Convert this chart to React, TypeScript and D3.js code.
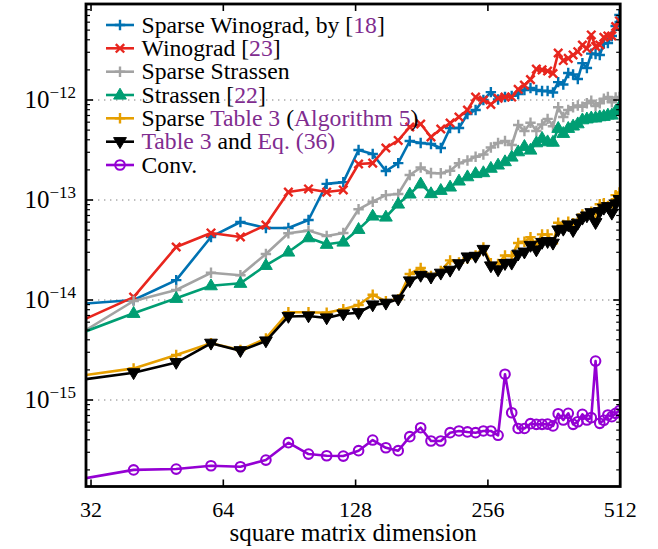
import React from 'react';
import * as d3 from 'd3';

const sizes = [30, 40, 50, 60, 70, 80, 90, 100, 110, 120, 130, 140, 150, 160, 170, 180, 190, 200, 210, 220, 230, 240, 250, 260, 270, 280, 290, 300, 310, 320, 330, 340, 350, 360, 370, 380, 390, 400, 410, 420, 430, 440, 450, 460, 470, 480, 490, 500, 510];

const sparseWinograd = [9.12e-15, 1.0e-14, 1.58e-14, 4.27e-14, 6.03e-14, 5.25e-14, 5.25e-14, 6.31e-14, 1.45e-13, 1.51e-13, 3.16e-13, 2.88e-13, 1.95e-13, 2.34e-13, 3.89e-13, 3.72e-13, 3.63e-13, 3.31e-13, 5.25e-13, 5.25e-13, 7.24e-13, 7.94e-13, 1.0e-12, 1.2e-12, 1.01e-12, 1.07e-12, 1.1e-12, 1.15e-12, 1.26e-12, 1.32e-12, 1.26e-12, 1.23e-12, 1.23e-12, 1.19e-12, 1.51e-12, 1.43e-12, 1.86e-12, 1.8e-12, 1.62e-12, 2.34e-12, 2.09e-12, 2.91e-12, 2.88e-12, 2.82e-12, 3.67e-12, 3.72e-12, 4.37e-12, 5.5e-12, 7.08e-12];

const winograd = [6.03e-15, 1.07e-14, 3.39e-14, 4.68e-14, 4.27e-14, 5.62e-14, 1.2e-13, 1.29e-13, 1.2e-13, 1.26e-13, 2.29e-13, 2.34e-13, 3.31e-13, 3.94e-13, 5.37e-13, 5.75e-13, 4.27e-13, 5.13e-13, 5.89e-13, 6.76e-13, 7.94e-13, 1.07e-12, 1.0e-12, 9.02e-13, 1.04e-12, 1.07e-12, 1.07e-12, 1.28e-12, 1.41e-12, 1.6e-12, 2.04e-12, 2.0e-12, 1.95e-12, 1.84e-12, 2.95e-12, 2.48e-12, 2.61e-12, 2.82e-12, 3.04e-12, 3.55e-12, 3.27e-12, 4.47e-12, 3.43e-12, 3.55e-12, 4.24e-12, 4.37e-12, 4.37e-12, 5.43e-12, 6.17e-12];

const sparseStrassen = [4.52e-15, 9.77e-15, 1.26e-14, 1.87e-14, 1.77e-14, 2.88e-14, 4.65e-14, 4.94e-14, 4.37e-14, 4.68e-14, 8.07e-14, 9.62e-14, 1.12e-13, 1.15e-13, 1.78e-13, 2.11e-13, 1.86e-13, 1.85e-13, 1.96e-13, 2.33e-13, 2.48e-13, 2.71e-13, 2.85e-13, 3.35e-13, 3.72e-13, 3.89e-13, 3.55e-13, 5.62e-13, 4.9e-13, 5.92e-13, 4.9e-13, 5.69e-13, 6.48e-13, 5.46e-13, 8.45e-13, 6.76e-13, 7.94e-13, 8.45e-13, 8.81e-13, 8.57e-13, 9.27e-13, 9.84e-13, 8.71e-13, 9.27e-13, 1.03e-12, 1.07e-12, 9.5e-13, 1.06e-12, 1.07e-12];

const strassen = [4.57e-15, 7.36e-15, 1.04e-14, 1.39e-14, 1.47e-14, 2.22e-14, 3.02e-14, 4.2e-14, 3.61e-14, 3.8e-14, 5.09e-14, 6.92e-14, 6.76e-14, 9.12e-14, 1.15e-13, 1.45e-13, 1.16e-13, 1.25e-13, 1.35e-13, 1.55e-13, 1.71e-13, 1.84e-13, 1.88e-13, 2.08e-13, 2.24e-13, 2.42e-13, 2.69e-13, 3.04e-13, 3.44e-13, 3.16e-13, 3.74e-13, 4.14e-13, 3.83e-13, 3.79e-13, 5.21e-13, 4.64e-13, 5.21e-13, 5.5e-13, 5.79e-13, 6.35e-13, 6.48e-13, 6.63e-13, 6.63e-13, 6.81e-13, 6.87e-13, 7.08e-13, 7.08e-13, 7.76e-13, 8.57e-13];

const sparseTable3 = [1.74e-15, 2.07e-15, 2.82e-15, 3.69e-15, 3.16e-15, 4.13e-15, 7.53e-15, 7.53e-15, 7.46e-15, 8.07e-15, 8.91e-15, 1.13e-14, 9.7e-15, 1.02e-14, 1.82e-14, 2.09e-14, 1.74e-14, 1.95e-14, 2.49e-14, 2.37e-14, 2.61e-14, 2.79e-14, 3.35e-14, 2.34e-14, 2.29e-14, 2.79e-14, 2.75e-14, 3.72e-14, 3.83e-14, 4.24e-14, 3.55e-14, 4.53e-14, 4.53e-14, 3.69e-14, 5.93e-14, 5.62e-14, 6.06e-14, 5.85e-14, 6.06e-14, 7.19e-14, 7.19e-14, 7.64e-14, 7.36e-14, 9.06e-14, 9.27e-14, 8.71e-14, 9.27e-14, 1.12e-13, 1.19e-13];

const table3Eq36 = [1.58e-15, 1.87e-15, 2.37e-15, 3.69e-15, 3.11e-15, 3.89e-15, 6.84e-15, 6.92e-15, 6.61e-15, 7.24e-15, 7.46e-15, 8.91e-15, 9.27e-15, 1.02e-14, 1.55e-14, 1.76e-14, 1.69e-14, 1.85e-14, 1.98e-14, 2.3e-14, 2.69e-14, 2.73e-14, 3.2e-14, 2.19e-14, 2.0e-14, 2.31e-14, 2.33e-14, 2.87e-14, 3.01e-14, 3.51e-14, 3.16e-14, 3.76e-14, 3.83e-14, 3.69e-14, 5.01e-14, 5.09e-14, 5.62e-14, 4.94e-14, 5.85e-14, 6.56e-14, 6.92e-14, 7.46e-14, 5.93e-14, 7.64e-14, 8.26e-14, 8.57e-14, 7.36e-14, 9.12e-14, 1.01e-13];

const conv = [1.61e-16, 2.0e-16, 2.04e-16, 2.2e-16, 2.15e-16, 2.51e-16, 3.74e-16, 2.88e-16, 2.77e-16, 2.75e-16, 3.11e-16, 3.98e-16, 3.33e-16, 3.11e-16, 4.3e-16, 5.28e-16, 3.89e-16, 3.89e-16, 4.71e-16, 4.9e-16, 4.79e-16, 4.71e-16, 4.9e-16, 4.9e-16, 4.44e-16, 1.81e-15, 7.46e-16, 5.19e-16, 5.19e-16, 5.8e-16, 5.71e-16, 5.71e-16, 5.75e-16, 5.5e-16, 7.29e-16, 6.31e-16, 7.36e-16, 5.71e-16, 6.06e-16, 7.19e-16, 6.31e-16, 6.65e-16, 2.45e-15, 5.85e-16, 6.27e-16, 7.08e-16, 6.81e-16, 7.36e-16, 7.83e-16];

const xTicks = [32, 64, 128, 256, 512];
const yDecades = [-12, -13, -14, -15];
const xLabel = 'square matrix dimension';

const LINK = '#7f2c8f';

type Seg = { t: string; c?: string };
type Series = { values: number[]; color: string; marker: string; label: Seg[] };

const series: Series[] = [
  { values: sparseWinograd, color: '#0072B2', marker: 'plus', label: [{ t: 'Sparse Winograd, by [' }, { t: '18', c: LINK }, { t: ']' }] },
  { values: winograd, color: '#E8261E', marker: 'cross', label: [{ t: 'Winograd [' }, { t: '23', c: LINK }, { t: ']' }] },
  { values: sparseStrassen, color: '#A3A3A3', marker: 'plus', label: [{ t: 'Sparse Strassen' }] },
  { values: strassen, color: '#009E73', marker: 'triUp', label: [{ t: 'Strassen [' }, { t: '22', c: LINK }, { t: ']' }] },
  { values: sparseTable3, color: '#E69F00', marker: 'plus', label: [{ t: 'Sparse ' }, { t: 'Table 3', c: LINK }, { t: ' (' }, { t: 'Algorithm 5', c: LINK }, { t: ')' }] },
  { values: table3Eq36, color: '#000000', marker: 'triDown', label: [{ t: 'Table 3', c: LINK }, { t: ' and ' }, { t: 'Eq. (36)', c: LINK }] },
  { values: conv, color: '#9400D3', marker: 'circle', label: [{ t: 'Conv.' }] },
];

const SERIF = "'Liberation Serif', 'DejaVu Serif', 'Times New Roman', serif";

function Marker({ kind, cx, cy, color }: { kind: string; cx: number; cy: number; color: string }) {
  if (kind === 'plus') {
    const s = 5.2;
    return <path d={`M${cx - s},${cy}H${cx + s}M${cx},${cy - s}V${cy + s}`} stroke={color} strokeWidth={2.4} fill="none" />;
  }
  if (kind === 'cross') {
    const s = 4.2;
    return <path d={`M${cx - s},${cy - s}L${cx + s},${cy + s}M${cx - s},${cy + s}L${cx + s},${cy - s}`} stroke={color} strokeWidth={2.4} fill="none" />;
  }
  if (kind === 'triUp') {
    const r = 6.8;
    return <path d={`M${cx},${cy - r}L${cx - r * 0.94},${cy + r * 0.6}L${cx + r * 0.94},${cy + r * 0.6}Z`} fill={color} stroke={color} strokeWidth={1} />;
  }
  if (kind === 'triDown') {
    const r = 6.8;
    return <path d={`M${cx},${cy + r}L${cx - r * 0.94},${cy - r * 0.6}L${cx + r * 0.94},${cy - r * 0.6}Z`} fill={color} stroke={color} strokeWidth={1} />;
  }
  return <circle cx={cx} cy={cy} r={4.8} fill="none" stroke={color} strokeWidth={2.1} />;
}

export default function App() {
  const W = 658, H = 549;
  const L = 86, R = 620.2, T = 4, B = 486.5;
  const x = d3.scaleLog().base(2).domain([31.17, 512]).range([L, R]);
  const y = d3.scaleLog().domain([Math.pow(10, -15.865), Math.pow(10, -11.04)]).range([B, T]);
  const line = d3.line<number>().x((_, i) => x(sizes[i])).y((v) => y(v));

  const minor: number[] = [];
  for (let e = -16; e <= -11; e++) {
    for (let m = 2; m <= 9; m++) {
      const v = m * Math.pow(10, e);
      const py = y(v);
      if (py > T + 1 && py < B - 1) minor.push(py);
    }
  }
  const legendRows = [25, 48.3, 71.7, 95, 118.3, 141.7, 165];
  const ts = { fontFamily: SERIF };

  return (
    <svg width={W} height={H} style={{ position: 'absolute', left: 0, top: 0, background: '#fff' }}>
      <rect x={0} y={0} width={W} height={H} fill="#fff" />
      <defs>
        <clipPath id="plotclip">
          <rect x={L} y={T} width={R - L} height={B - T} />
        </clipPath>
      </defs>
      {yDecades.map((e) => (
        <line key={e} x1={L} x2={R} y1={y(Math.pow(10, e))} y2={y(Math.pow(10, e))} stroke="#aaaaaa" strokeWidth={1.4} strokeDasharray="1.4,4.6" />
      ))}
      <g clipPath="url(#plotclip)">
        {series.map((s, si) => (
          <g key={si}>
            <path d={line(s.values) || ''} fill="none" stroke={s.color} strokeWidth={2.6} strokeLinejoin="round" />
            {s.values.map((v, i) => (
              <Marker key={i} kind={s.marker} cx={x(sizes[i])} cy={y(v)} color={s.color} />
            ))}
          </g>
        ))}
      </g>
      {xTicks.map((t) => (
        <g key={t}>
          <line x1={x(t)} x2={x(t)} y1={B} y2={B - 7} stroke="#000" strokeWidth={1.6} />
          <line x1={x(t)} x2={x(t)} y1={T} y2={T + 7} stroke="#000" strokeWidth={1.6} />
          <text x={x(t)} y={517} textAnchor="middle" fontSize={22} style={ts}>{t}</text>
        </g>
      ))}
      {yDecades.map((e) => {
        const py = y(Math.pow(10, e));
        return (
          <g key={e}>
            <line x1={L} x2={L + 7} y1={py} y2={py} stroke="#000" strokeWidth={1.6} />
            <line x1={R} x2={R - 7} y1={py} y2={py} stroke="#000" strokeWidth={1.6} />
            <text x={76} y={py + 8} textAnchor="end" style={ts}>
              <tspan fontSize={25}>10</tspan>
              <tspan fontSize={17} dy={-10}>{'\u2212' + String(-e)}</tspan>
            </text>
          </g>
        );
      })}
      {minor.map((py, i) => (
        <g key={i}>
          <line x1={L} x2={L + 4} y1={py} y2={py} stroke="#000" strokeWidth={1.2} />
          <line x1={R} x2={R - 4} y1={py} y2={py} stroke="#000" strokeWidth={1.2} />
        </g>
      ))}
      <rect x={L} y={T} width={R - L} height={B - T} fill="none" stroke="#000" strokeWidth={2.8} />
      <text x={(L + R) / 2} y={541} textAnchor="middle" fontSize={25} style={ts}>{xLabel}</text>
      {series.map((s, i) => {
        const ry = legendRows[i];
        return (
          <g key={i}>
            <line x1={106} x2={134} y1={ry} y2={ry} stroke={s.color} strokeWidth={2.6} />
            <Marker kind={s.marker} cx={120} cy={ry} color={s.color} />
            <text x={141.5} y={ry + 7.5} fontSize={23.7} style={ts}>
              {s.label.map((seg, k) => (
                <tspan key={k} fill={seg.c || '#000'}>{seg.t}</tspan>
              ))}
            </text>
          </g>
        );
      })}
    </svg>
  );
}
